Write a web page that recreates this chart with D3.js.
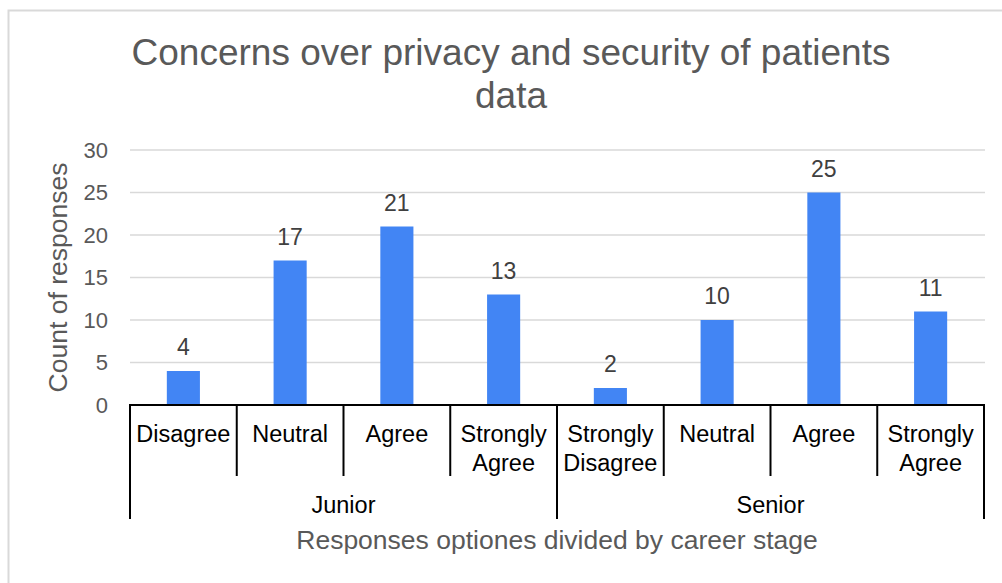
<!DOCTYPE html>
<html>
<head>
<meta charset="utf-8">
<script src="https://cdn.jsdelivr.net/npm/d3@7"></script>
<style>
  html, body { margin: 0; padding: 0; background: #fff; }
  svg { display: block; font-family: "Liberation Sans", Arial, sans-serif; }
</style>
</head>
<body>
<svg id="chart" width="1002" height="583"></svg>
<script>
// Survey responses grouped by career stage
const groups = ["Junior", "Senior"];
const junior = [
  { label: ["Disagree"], value: 4 },
  { label: ["Neutral"], value: 17 },
  { label: ["Agree"], value: 21 },
  { label: ["Strongly", "Agree"], value: 13 }
];
const senior = [
  { label: ["Strongly", "Disagree"], value: 2 },
  { label: ["Neutral"], value: 10 },
  { label: ["Agree"], value: 25 },
  { label: ["Strongly", "Agree"], value: 11 }
];
const yTicks = [0, 5, 10, 15, 20, 25, 30];

const rows = [
  ...junior.map((d, i) => ({ ...d, group: groups[0], key: "J" + i })),
  ...senior.map((d, i) => ({ ...d, group: groups[1], key: "S" + i }))
];

const svg = d3.select("#chart");
const W = 1002, H = 583;
const plot = { left: 130, right: 984, top: 150, bottom: 405 };

// outer frame (open on the right and bottom)
svg.append("path")
  .attr("d", `M8.5,${H} V10.5 H${W}`)
  .attr("fill", "none")
  .attr("stroke", "#d9d9d9")
  .attr("stroke-width", 2);

const x = d3.scaleBand()
  .domain(rows.map(d => d.key))
  .range([plot.left, plot.right])
  .paddingInner(0.69)
  .paddingOuter(0.345);

const xSlot = d3.scaleBand()
  .domain(rows.map(d => d.key))
  .range([plot.left, plot.right]);

const y = d3.scaleLinear().domain([0, 30]).range([plot.bottom, plot.top]);

// gridlines
svg.append("g")
  .selectAll("line")
  .data(yTicks.filter(t => t > 0))
  .join("line")
  .attr("x1", plot.left).attr("x2", plot.right + 1)
  .attr("y1", d => y(d)).attr("y2", d => y(d))
  .attr("stroke", "#d9d9d9").attr("stroke-width", 1.5);

// y axis tick labels
const yAxis = d3.axisLeft(y).tickValues(yTicks).tickSize(0).tickPadding(22);
const gy = svg.append("g").attr("transform", `translate(${plot.left},0)`).call(yAxis);
gy.select(".domain").remove();
gy.selectAll("text")
  .attr("font-size", 22)
  .attr("fill", "#595959")
  .attr("font-family", "Liberation Sans, Arial, sans-serif");

// bars
svg.append("g")
  .selectAll("rect")
  .data(rows)
  .join("rect")
  .attr("x", d => x(d.key))
  .attr("width", x.bandwidth())
  .attr("y", d => y(d.value))
  .attr("height", d => y(0) - y(d.value))
  .attr("fill", "#4285f4");

// value labels
svg.append("g")
  .selectAll("text")
  .data(rows)
  .join("text")
  .attr("x", d => x(d.key) + x.bandwidth() / 2)
  .attr("y", d => y(d.value) - 16)
  .attr("text-anchor", "middle")
  .attr("font-size", 23)
  .attr("fill", "#404040")
  .text(d => d.value);

// category axis: baseline, dividers, labels
const axisG = svg.append("g").attr("stroke", "#000").attr("stroke-width", 2);
axisG.append("line")
  .attr("x1", plot.left - 1).attr("x2", plot.right + 1)
  .attr("y1", plot.bottom).attr("y2", plot.bottom);

const innerEdges = rows.map(d => xSlot(d.key)).concat([plot.right]);
const groupEdges = [plot.left, xSlot(rows[junior.length].key), plot.right];

axisG.selectAll("line.inner")
  .data(innerEdges.filter(v => !groupEdges.includes(v)))
  .join("line").attr("class", "inner")
  .attr("x1", d => d).attr("x2", d => d)
  .attr("y1", plot.bottom).attr("y2", 476);

axisG.selectAll("line.outer")
  .data(groupEdges)
  .join("line").attr("class", "outer")
  .attr("x1", d => d).attr("x2", d => d)
  .attr("y1", plot.bottom).attr("y2", 519);

const catLabels = svg.append("g").attr("font-size", 23.5).attr("fill", "#000");
catLabels.selectAll("text")
  .data(rows)
  .join("text")
  .attr("x", d => xSlot(d.key) + xSlot.bandwidth() / 2)
  .attr("y", 442)
  .attr("text-anchor", "middle")
  .each(function (d) {
    const t = d3.select(this);
    d.label.forEach((line, i) => {
      t.append("tspan")
        .attr("x", xSlot(d.key) + xSlot.bandwidth() / 2)
        .attr("dy", i === 0 ? 0 : 29)
        .text(line);
    });
  });

svg.append("g")
  .selectAll("text")
  .data(groups)
  .join("text")
  .attr("x", (d, i) => (groupEdges[i] + groupEdges[i + 1]) / 2)
  .attr("y", 513)
  .attr("text-anchor", "middle")
  .attr("font-size", 23.5)
  .attr("fill", "#000")
  .text(d => d);

// axis titles
svg.append("text")
  .attr("x", 557)
  .attr("y", 549)
  .attr("text-anchor", "middle")
  .attr("font-size", 26.5)
  .attr("fill", "#595959")
  .text("Responses optiones divided by career stage");

svg.append("text")
  .attr("transform", `translate(67,${(plot.top + plot.bottom) / 2}) rotate(-90)`)
  .attr("text-anchor", "middle")
  .attr("font-size", 26.5)
  .attr("fill", "#595959")
  .text("Count of responses");

// chart title
const title = svg.append("text")
  .attr("text-anchor", "middle")
  .attr("font-size", 37)
  .attr("fill", "#595959");
title.append("tspan").attr("x", 511).attr("y", 65).text("Concerns over privacy and security of patients");
title.append("tspan").attr("x", 511).attr("y", 108).text("data");
</script>
</body>
</html>
